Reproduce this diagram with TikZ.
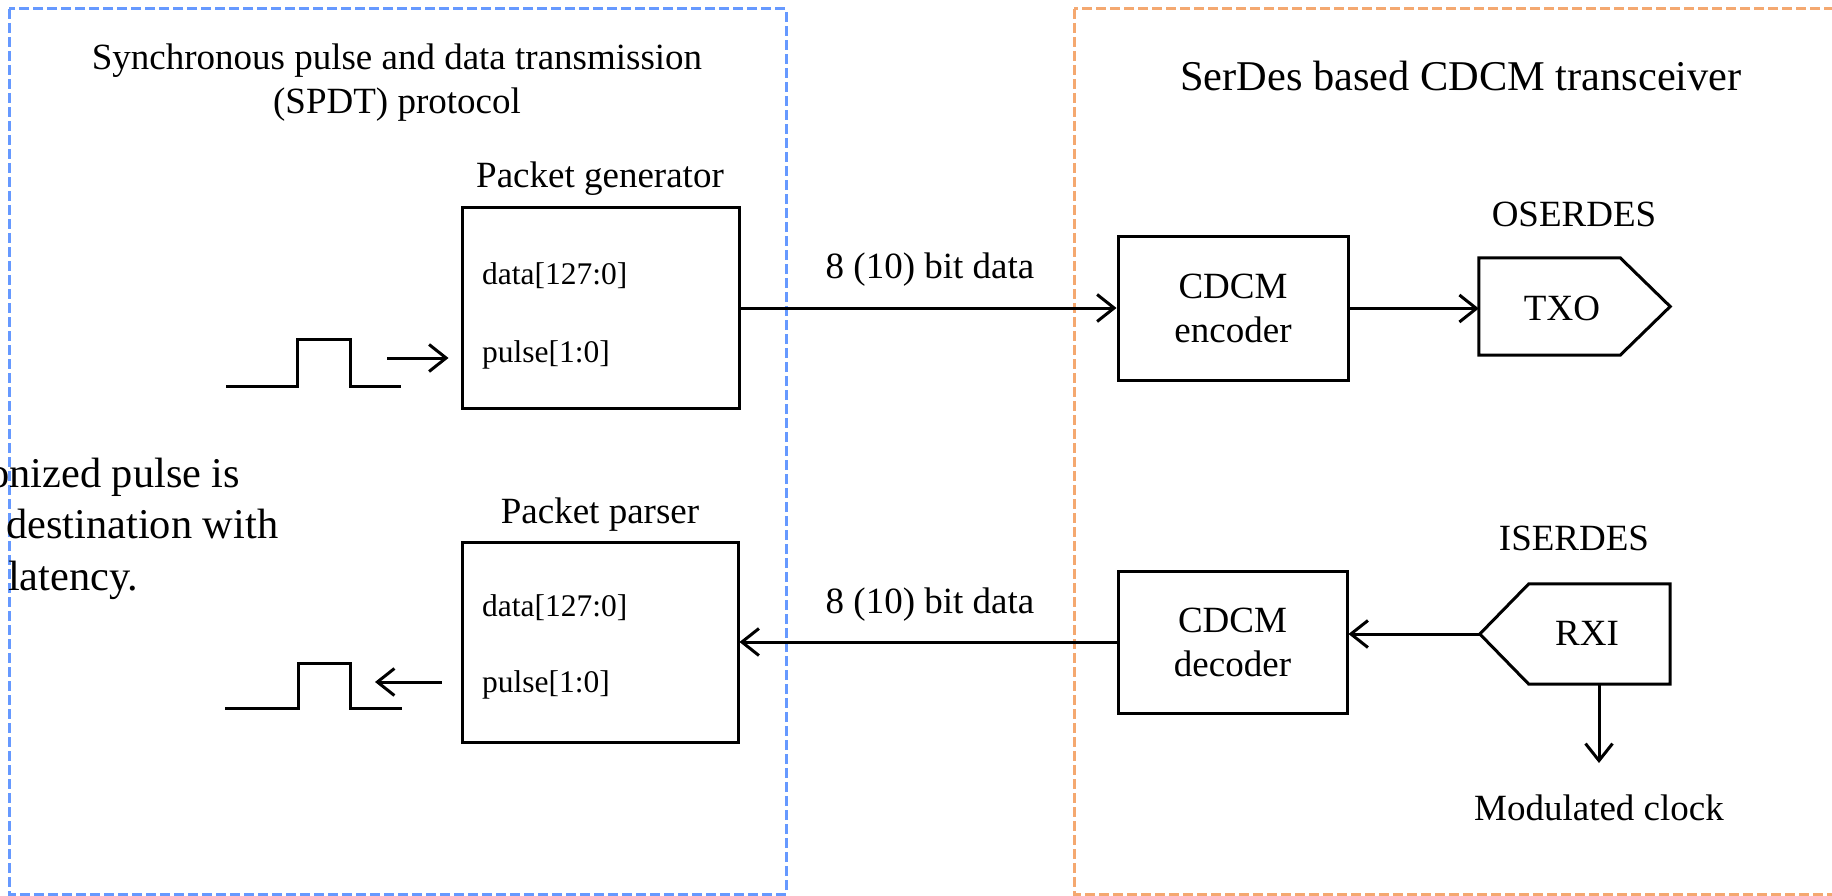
\documentclass[tikz,border=0pt]{standalone}
\usepackage{fontspec}
\setmainfont{Liberation Serif}
\usetikzlibrary{arrows.meta,calc}
\definecolor{boxblue}{RGB}{102,153,255}
\definecolor{boxorange}{RGB}{244,168,112}
\begin{document}
\begin{tikzpicture}[x=1pt,y=-1pt,
  blk/.style={draw=black, line width=3pt, inner sep=0pt, align=center,
    font=\fontsize{37}{44}\selectfont},
  lbl/.style={inner sep=0pt, anchor=base, font=\fontsize{37}{44}\selectfont},
  inlbl/.style={inner sep=0pt, anchor=base west, font=\fontsize{31.5}{36}\selectfont},
  sidelbl/.style={inner sep=0pt, anchor=base west, font=\fontsize{42.4}{50}\selectfont},
  ttl/.style={inner sep=0pt, anchor=base, font=\fontsize{42.4}{50}\selectfont},
  arr/.style={line width=3pt, -{Straight Barb[length=17pt,width=27pt]}},
  wave/.style={line width=3pt, line join=miter},
  region/.style={line width=3pt, dash pattern=on 10pt off 4pt}]
\useasboundingbox (0,0) rectangle (1832,896);
\clip (0,0) rectangle (1832,896);

% dashed regions
\draw[region, draw=boxblue] (9,9) rectangle (786,894);
\draw[region, draw=boxorange] (1074,9) rectangle (1850,894);

% titles
\node[lbl] (t1) at (397,70) {Synchronous pulse and data transmission};
\node[lbl] (t2) at (397,114) {(SPDT) protocol};
\node[ttl] (t3) at (1461,91) {SerDes based CDCM transceiver};

% side text (cut off at the left edge, as in the reference)
\node[sidelbl] (s1) at (-12,487) {onized pulse is};
\node[sidelbl] (s2) at (6,538) {destination with};
\node[sidelbl] (s3) at (8,590) {latency.};

% packet generator
\node[blk, minimum width=277pt, minimum height=200pt] (gen) at (600.5,308) {};
\node[lbl] (genl) at (600,188) {Packet generator};
\node[inlbl] (gend) at (482,284) {data[127:0]};
\node[inlbl] (genp) at (482,362) {pulse[1:0]};

% packet parser
\node[blk, minimum width=276pt, minimum height=200pt] (par) at (600,642) {};
\node[lbl] (parl) at (600,523) {Packet parser};
\node[inlbl] (pard) at (482,616) {data[127:0]};
\node[inlbl] (parp) at (482,692) {pulse[1:0]};

% CDCM encoder / decoder
\node[blk, minimum width=230pt, minimum height=143pt] (enc) at (1233,308.5) {CDCM\\encoder};
\node[blk, minimum width=229pt, minimum height=142pt] (dec) at (1232.5,642) {CDCM\\decoder};

% TXO
\node[minimum width=191pt, minimum height=97pt, inner sep=0pt] (txo) at (1574.5,306.5) {};
\draw[wave] (txo.north west) -- ($(txo.north east)+(-50,0)$) -- (txo.east)
  -- ($(txo.south east)+(-50,0)$) -- (txo.south west) -- cycle;
\node[lbl] (txol) at (1562,320) {TXO};
\node[lbl] (osl) at (1574,227) {OSERDES};

% RXI
\node[minimum width=190pt, minimum height=100pt, inner sep=0pt] (rxi) at (1575,634) {};
\draw[wave] (rxi.west) -- ($(rxi.north west)+(49,0)$) -- (rxi.north east)
  -- (rxi.south east) -- ($(rxi.south west)+(49,0)$) -- cycle;
\node[lbl] (rxil) at (1587,645) {RXI};
\node[lbl] (isl) at (1574,550) {ISERDES};

% connectors
\draw[arr] (gen.east) -- (gen.east -| enc.west);
\node[lbl] (d1) at (930,279) {8 (10) bit data};
\draw[arr] (dec.west) -- (dec.west -| par.east);
\node[lbl] (d2) at (930,613) {8 (10) bit data};
\draw[arr] (enc.east) -- (enc.east -| txo.west);
\draw[arr] (rxi.west) -- (rxi.west -| dec.east);

\coordinate (mc) at (1599,763);
\draw[arr] ($(rxi.south)+(24,0)$) -- (mc);
\node[lbl] (clk) at (1599,820) {Modulated clock};

% pulse waveforms
\draw[wave] (226,386) -- (297,386) -- (297,339) -- (350,339) -- (350,386) -- (401,386);
\coordinate (pin) at (387,358);
\draw[arr, shorten >=12pt] (pin) -- (pin -| gen.west);

\draw[wave] (225,708) -- (298,708) -- (298,663) -- (350,663) -- (350,708) -- (402,708);
\coordinate (pout) at (375,682);
\draw[arr, shorten <=19pt] (pout -| par.west) -- (pout);
\end{tikzpicture}
\end{document}
